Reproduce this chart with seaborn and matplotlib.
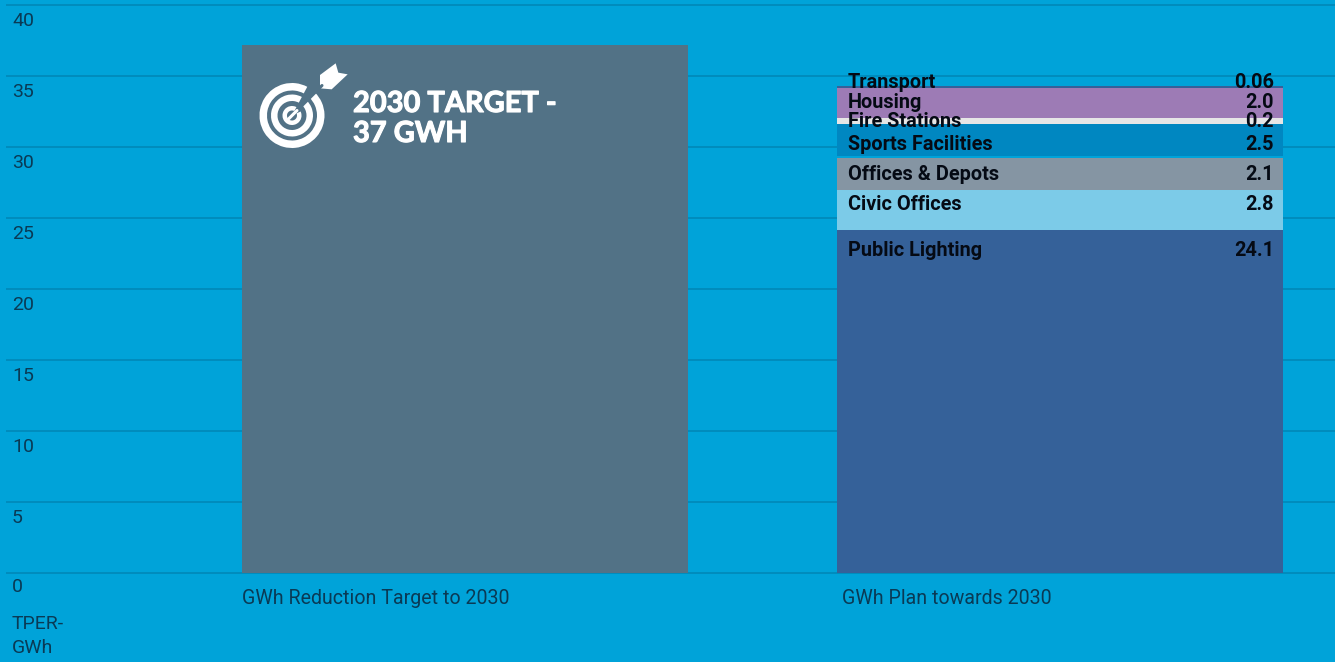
import matplotlib
matplotlib.use("Agg")
import matplotlib.pyplot as plt
import matplotlib.patheffects as pe
import seaborn as sns
from matplotlib.patches import Wedge, Polygon
from matplotlib.lines import Line2D
from matplotlib.transforms import IdentityTransform

# bars
categories = ["GWh Reduction Target to 2030", "GWh Plan towards 2030"]
target_value = 37.2
segments = ["Public Lighting", "Civic Offices", "Offices & Depots", "", "Sports Facilities",
            "Fire Stations", "Housing", "Transport"]
# printed numbers and the heights the bars are really drawn at (they differ a little in the source)
printed = ["24.1", "2.8", "2.1", "", "2.5", "0.2", "2.0", "0.06"]
heights = [24.15, 2.82, 2.25, 0.14, 2.25, 0.42, 2.11, 0.14]
colors = ["#356199", "#7ccbe8", "#8595a3", "#00a3d9", "#0087c1", "#e6e6e6", "#9d7bb5", "#356199"]
label_offsets = [19, 13, 15, 0, 19, 2, 13, -5]  # px below segment top
y_ticks = [0, 5, 10, 15, 20, 25, 30, 35, 40]

BG = "#00a3d9"
GRID = "#0088b8"
TEXT = "#0a3a55"
W, H = 1335, 662

sns.set_theme(style="white")
plt.rcParams["font.family"] = "Roboto"

fig = plt.figure(figsize=(W / 100, H / 100), dpi=100, facecolor=BG)
ax = fig.add_axes([0, 0, 1, 1], facecolor=BG)

sns.barplot(x=[categories[0]], y=[target_value], order=categories, color="#527286",
            saturation=1, width=0.75, zorder=3, linewidth=0, ax=ax)
bottom = 0
tops = []
for h, c in zip(heights, colors):
    sns.barplot(x=[categories[1]], y=[h], bottom=bottom, order=categories, color=c,
                saturation=1, width=0.75, zorder=3, linewidth=0, ax=ax)
    bottom += h
    tops.append(bottom)

ax.set_xlim(-465 / 595, (W - 465) / 595)
ax.set_ylim((573 - H) / 14.2, 573 / 14.2)
ax.set_xticks([])
ax.set_yticks([])
ax.set_xlabel("")
ax.set_ylabel("")
sns.despine(ax=ax, left=True, bottom=True)

ax.hlines(y_ticks, 6 / W, 1, transform=ax.get_yaxis_transform(), color=GRID, lw=1.2, zorder=1)

# y labels sit just under their gridline
for t in y_ticks:
    ax.annotate(str(t), (0, t), xycoords=ax.get_yaxis_transform(), xytext=(12, -16 if t else -14),
                textcoords="offset pixels", ha="left", va="center", fontsize=14, color=TEXT)
ax.annotate("TPER-\nGWh", (0, 0), xycoords=ax.get_yaxis_transform(), xytext=(12, -63),
            textcoords="offset pixels", ha="left", va="center", fontsize=14, color=TEXT,
            linespacing=1.38)

# category labels
for i, (cat, dx) in enumerate(zip(categories, [-223, -218])):
    ax.annotate(cat, (i, 0), xytext=(dx, -26), textcoords="offset pixels", ha="left", va="center",
                fontsize=14.1, color=TEXT)

# segment labels
for seg, val, top, off in zip(segments, printed, tops, label_offsets):
    if seg:
        ax.annotate(seg, (1, top), xytext=(-212, -off - 1), textcoords="offset pixels", ha="left", va="center",
                    fontsize=14.3, fontweight="bold", color="#050a14", zorder=5)
        ax.annotate(val, (1, top), xytext=(214, -off - 1), textcoords="offset pixels", ha="right", va="center",
                    fontsize=14.3, fontweight="bold", color="#050a14", zorder=5)

# target text and icon
for line, py in [("2030 TARGET -", 104), ("37 GWH", 134)]:
    ax.text(353 / W, 1 - py / H, line, transform=ax.transAxes, color="white", fontsize=20.9,
            fontweight="bold", family="Lato", va="center", zorder=5,
            path_effects=[pe.withStroke(linewidth=0.8, foreground="white")])

cx, cy = 292, H - 115.5
icon = dict(transform=IdentityTransform(), facecolor="white", edgecolor="none", zorder=6)
for r, w, a1, a2 in [(32.5, 7.5, 62, 405), (21, 6.5, 62, 405), (9.5, 4.5, 62, 385)]:
    ax.add_patch(Wedge((cx, cy), r, a1, a2, width=w, **icon))
# arrow shaft cut through the rings
ax.add_line(Line2D([cx - 3, cx + 30], [cy - 3, cy + 30], color="#527286", lw=2.2,
                   transform=IdentityTransform(), zorder=7))
ax.add_line(Line2D([cx - 4, cx + 5], [cy - 4, cy + 5], color="white", lw=2.2,
                   transform=IdentityTransform(), zorder=8))
pts = [(270, 135), (317, 100), (325, 128), (353, 133), (305, 178), (270, 175)]
ax.add_patch(Polygon([(230 + x / 3, H - (30 + y / 3)) for x, y in pts], **icon))

fig.savefig("out.png", dpi=100, facecolor=BG)
